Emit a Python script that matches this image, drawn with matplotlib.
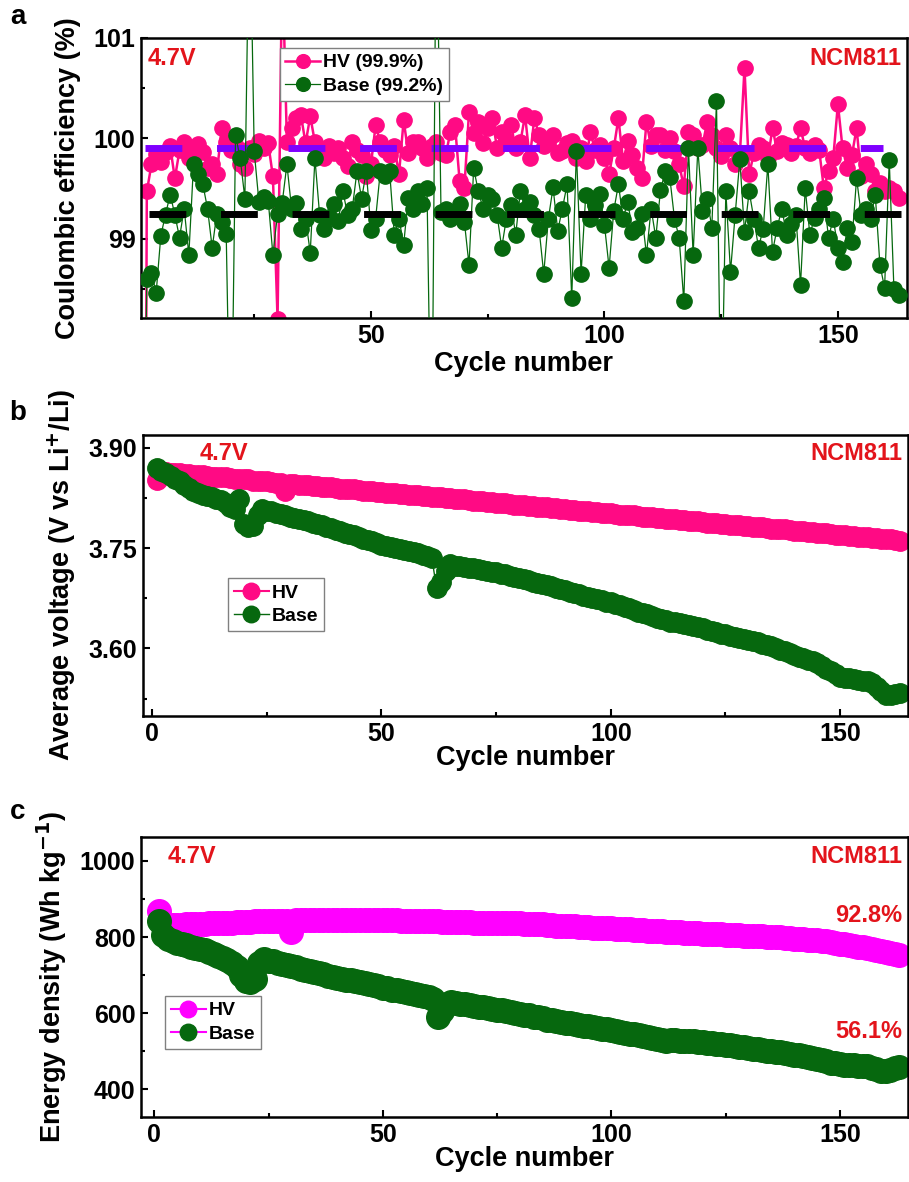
import matplotlib
matplotlib.use('Agg')
import matplotlib.pyplot as plt
from matplotlib.ticker import MultipleLocator, FormatStrFormatter
import numpy as np

# ---------------- data ----------------
# (a) Coulombic efficiency, %
hv_ce = [
    88.0, 99.47, 99.74, 99.84, 99.76, 99.86, 99.92, 99.60, 99.88, 99.96,
    99.80, 99.90, 99.94, 99.86, 99.70, 99.74, 99.64, 100.10, 99.96, 99.88,
    99.92, 99.74, 99.70, 99.90, 99.84, 99.97, 99.90, 99.95, 99.62, 98.20,
    101.8, 99.96, 100.10, 100.20, 100.23, 99.95, 100.22, 99.96, 99.88, 99.80,
    99.92, 99.85, 99.90, 99.80, 99.72, 99.96, 99.88, 99.83, 99.62, 99.74,
    100.13, 99.96, 99.88, 99.83, 99.92, 99.64, 100.18, 99.85, 99.96, 99.96,
    99.90, 99.80, 99.92, 99.96, 99.85, 99.83, 100.06, 100.13, 99.57, 99.50,
    100.26, 100.05, 100.16, 99.95, 100.10, 100.20, 99.90, 100.06, 99.98, 100.13,
    99.90, 99.96, 100.23, 99.80, 100.20, 100.03, 99.92, 99.96, 100.03, 99.85,
    99.87, 99.95, 99.97, 99.80, 99.90, 99.77, 100.06, 99.88, 99.93, 99.80,
    99.64, 99.90, 100.20, 99.77, 99.97, 99.83, 99.70, 99.60, 100.16, 99.92,
    100.03, 100.03, 99.88, 100.00, 99.87, 99.74, 99.52, 100.06, 100.03, 99.90,
    99.93, 100.16, 100.03, 99.90, 99.82, 100.03, 99.90, 99.74, 99.83, 100.70,
    99.64, 99.85, 99.93, 99.90, 99.80, 100.10, 99.87, 99.95, 99.93, 99.85,
    99.92, 100.10, 99.90, 99.85, 99.93, 99.88, 99.50, 99.67, 99.80, 100.34,
    99.90, 99.70, 99.83, 100.10, 99.62, 99.74, 99.64, 99.47, 99.55, 99.47,
    99.50, 99.47, 99.41,
]
base_ce = [
    95.0, 98.60, 98.66, 98.46, 99.03, 99.24, 99.44, 99.24, 99.01, 99.30,
    98.84, 99.74, 99.64, 99.54, 99.30, 98.91, 99.25, 99.17, 99.05, 96.5,
    100.03, 99.80, 99.40, 102.5, 99.87, 99.37, 99.42, 99.38, 98.84, 99.25,
    99.36, 99.74, 99.30, 99.36, 99.10, 99.20, 98.86, 99.80, 99.24, 99.10,
    99.22, 99.35, 99.18, 99.47, 99.24, 99.30, 99.67, 99.40, 99.67, 99.09,
    99.20, 99.67, 99.62, 99.67, 99.04, 99.20, 98.94, 99.41, 99.30, 99.47,
    99.35, 99.50, 96.5, 102.5, 99.27, 99.30, 99.20, 99.24, 99.35, 99.17,
    98.74, 99.70, 99.47, 99.30, 99.44, 99.40, 99.24, 98.91, 99.20, 99.34,
    99.04, 99.47, 99.30, 99.37, 99.24, 99.10, 98.65, 99.20, 99.51, 99.08,
    99.30, 99.54, 98.41, 99.87, 98.65, 99.44, 99.20, 99.34, 99.45, 99.14,
    98.71, 99.28, 99.54, 99.20, 99.37, 99.07, 99.11, 99.25, 98.84, 99.30,
    99.01, 99.48, 99.67, 99.61, 99.20, 99.01, 98.38, 99.90, 98.84, 99.90,
    99.28, 99.40, 99.11, 100.37, 97.0, 99.47, 98.67, 99.24, 99.79, 99.07,
    99.47, 99.20, 98.91, 99.10, 99.74, 98.87, 99.11, 99.30, 99.04, 99.15,
    99.24, 98.54, 99.50, 99.04, 99.21, 99.30, 99.41, 99.01, 99.20, 98.91,
    98.77, 99.11, 98.97, 99.60, 99.24, 99.30, 99.20, 99.44, 98.74, 98.51,
    99.78, 98.50, 98.44,
]
hv_ce_mean = 99.90
base_ce_mean = 99.25

# (b) average voltage, V vs Li+/Li
hv_voltage = [
    3.852, 3.864, 3.864, 3.863, 3.862, 3.862, 3.861, 3.861, 3.859, 3.859,
    3.859, 3.858, 3.857, 3.857, 3.856, 3.856, 3.855, 3.854, 3.854, 3.853,
    3.853, 3.851, 3.851, 3.850, 3.850, 3.849, 3.848, 3.848, 3.836, 3.846,
    3.846, 3.845, 3.844, 3.844, 3.843, 3.843, 3.842, 3.841, 3.841, 3.840,
    3.839, 3.839, 3.838, 3.838, 3.837, 3.836, 3.836, 3.835, 3.834, 3.834,
    3.833, 3.833, 3.832, 3.831, 3.831, 3.830, 3.830, 3.829, 3.828, 3.828,
    3.827, 3.826, 3.826, 3.825, 3.825, 3.824, 3.823, 3.823, 3.822, 3.821,
    3.820, 3.820, 3.819, 3.819, 3.818, 3.817, 3.817, 3.816, 3.815, 3.815,
    3.814, 3.813, 3.813, 3.812, 3.812, 3.811, 3.810, 3.810, 3.809, 3.808,
    3.807, 3.807, 3.806, 3.806, 3.805, 3.804, 3.804, 3.803, 3.802, 3.802,
    3.801, 3.800, 3.800, 3.799, 3.799, 3.798, 3.797, 3.797, 3.796, 3.795,
    3.795, 3.794, 3.793, 3.793, 3.792, 3.792, 3.791, 3.790, 3.790, 3.789,
    3.788, 3.788, 3.787, 3.786, 3.786, 3.785, 3.785, 3.784, 3.783, 3.783,
    3.782, 3.781, 3.781, 3.780, 3.779, 3.779, 3.778, 3.778, 3.777, 3.776,
    3.775, 3.775, 3.774, 3.774, 3.773, 3.772, 3.772, 3.771, 3.770, 3.770,
    3.769, 3.768, 3.768, 3.767, 3.767, 3.766, 3.765, 3.765, 3.764, 3.763,
    3.763, 3.762, 3.761,
]
base_voltage = [
    3.870, 3.866, 3.862, 3.858, 3.854, 3.850, 3.845, 3.840, 3.836, 3.832,
    3.830, 3.828, 3.826, 3.824, 3.822, 3.818, 3.812, 3.808, 3.824, 3.786,
    3.781, 3.783, 3.800, 3.808, 3.806, 3.805, 3.803, 3.801, 3.799, 3.797,
    3.795, 3.794, 3.792, 3.790, 3.788, 3.786, 3.784, 3.782, 3.780, 3.777,
    3.775, 3.773, 3.771, 3.769, 3.766, 3.764, 3.762, 3.760, 3.757, 3.755,
    3.753, 3.752, 3.750, 3.749, 3.747, 3.745, 3.744, 3.742, 3.740, 3.738,
    3.735, 3.690, 3.700, 3.716, 3.726, 3.724, 3.723, 3.722, 3.721, 3.720,
    3.719, 3.718, 3.716, 3.715, 3.714, 3.712, 3.711, 3.709, 3.707, 3.705,
    3.704, 3.702, 3.700, 3.698, 3.697, 3.695, 3.693, 3.691, 3.689, 3.687,
    3.685, 3.683, 3.681, 3.679, 3.677, 3.676, 3.674, 3.672, 3.670, 3.669,
    3.667, 3.665, 3.662, 3.660, 3.658, 3.655, 3.653, 3.651, 3.648, 3.646,
    3.644, 3.642, 3.640, 3.639, 3.638, 3.636, 3.635, 3.633, 3.632, 3.630,
    3.628, 3.626, 3.624, 3.622, 3.621, 3.619, 3.617, 3.616, 3.614, 3.612,
    3.611, 3.609, 3.607, 3.605, 3.603, 3.600, 3.598, 3.596, 3.593, 3.591,
    3.588, 3.586, 3.583, 3.581, 3.579, 3.574, 3.570, 3.566, 3.562, 3.558,
    3.556, 3.556, 3.554, 3.553, 3.552, 3.551, 3.549, 3.543, 3.537, 3.531,
    3.530, 3.532, 3.534,
]

# (c) energy density, Wh/kg
hv_energy = [
    868, 834, 830, 831, 832, 832, 833, 834, 834, 835,
    835, 836, 836, 837, 837, 838, 838, 839, 839, 840,
    840, 841, 841, 841, 842, 842, 843, 843, 843, 812,
    844, 844, 844, 845, 845, 845, 845, 846, 846, 846,
    846, 846, 846, 846, 846, 846, 845, 845, 845, 845,
    844, 844, 844, 843, 843, 843, 842, 842, 842, 841,
    841, 841, 840, 840, 840, 839, 839, 839, 839, 838,
    838, 838, 838, 838, 837, 837, 837, 837, 836, 836,
    835, 835, 834, 833, 833, 832, 831, 830, 830, 829,
    828, 828, 827, 826, 826, 825, 825, 824, 824, 823,
    822, 822, 821, 820, 819, 818, 818, 817, 816, 815,
    815, 814, 813, 813, 812, 811, 811, 810, 810, 809,
    808, 808, 807, 807, 806, 806, 805, 805, 804, 803,
    803, 802, 802, 801, 800, 800, 799, 798, 797, 796,
    795, 794, 793, 792, 791, 790, 789, 787, 785, 783,
    781, 779, 777, 775, 773, 771, 769, 766, 763, 760,
    758, 756, 754,
]
base_energy = [
    843, 805, 795, 790, 785, 782, 778, 775, 772, 769,
    765, 760, 755, 750, 745, 740, 733, 722, 700, 684,
    682, 690, 733, 742, 738, 736, 733, 730, 727, 723,
    720, 717, 714, 712, 709, 705, 702, 698, 695, 693,
    690, 688, 686, 684, 681, 679, 676, 673, 670, 667,
    665, 662, 660, 658, 655, 653, 650, 648, 645, 642,
    638, 590, 605, 625, 628, 627, 625, 623, 621, 619,
    617, 615, 613, 611, 609, 607, 605, 603, 601, 599,
    596, 594, 591, 589, 586, 583, 581, 579, 577, 575,
    573, 571, 569, 567, 565, 563, 561, 559, 557, 555,
    552, 550, 548, 546, 544, 542, 540, 537, 535, 532,
    530, 528, 530, 529, 527, 526, 527, 526, 524, 523,
    522, 521, 520, 519, 517, 515, 514, 512, 510, 508,
    506, 505, 503, 501, 500, 498, 497, 495, 493, 491,
    489, 487, 485, 482, 479, 476, 473, 470, 468, 466,
    464, 464, 463, 461, 462, 460, 457, 452, 449, 448,
    451, 455, 458,
]

cycles = np.arange(1, len(hv_ce) + 1)

# ---------------- style ----------------
PINK = '#FF0A84'
GREEN = '#06680E'
MAGENTA = '#FF00FF'
PURPLE = '#7F00FF'
RED = '#E3141B'

plt.rcParams['font.family'] = ['Liberation Sans', 'DejaVu Sans']
plt.rcParams['font.weight'] = 'bold'
plt.rcParams['axes.labelweight'] = 'bold'
plt.rcParams['axes.linewidth'] = 1.8
plt.rcParams['mathtext.default'] = 'bf'


def style_axes(ax, ymajor, yminor):
    ax.tick_params(which='both', direction='in', top=False, right=False,
                   labelsize=18, width=1.5)
    ax.tick_params(which='major', length=5, pad=4)
    ax.tick_params(which='minor', length=3)
    ax.xaxis.set_major_locator(MultipleLocator(50))
    ax.xaxis.set_minor_locator(MultipleLocator(25))
    ax.yaxis.set_major_locator(MultipleLocator(ymajor))
    ax.yaxis.set_minor_locator(MultipleLocator(yminor))
    ax.set_xlabel('Cycle number', fontsize=19.5)


def add_tags(ax, x_left, y_left):
    ax.text(x_left, y_left, '4.7V', color=RED, fontsize=17, fontweight='bold',
            transform=ax.transAxes, ha='left', va='center')
    ax.text(0.993, y_left, 'NCM811', color=RED, fontsize=17, fontweight='bold',
            transform=ax.transAxes, ha='right', va='center')


fig = plt.figure(figsize=(9.09, 11.82), dpi=100)
ax_a = fig.add_axes([0.1551, 0.7310, 0.8427, 0.2369])
ax_b = fig.add_axes([0.1573, 0.3942, 0.8416, 0.2377])
ax_c = fig.add_axes([0.1551, 0.0550, 0.8438, 0.2369])

# ---------------- (a) Coulombic efficiency ----------------
ax_a.plot(cycles, hv_ce, '-o', color=PINK, lw=1.8, ms=11, mec=PINK,
          label='HV (99.9%)', zorder=2)
ax_a.plot(cycles, base_ce, '-o', color=GREEN, lw=0.9, ms=11, mec=GREEN,
          label='Base (99.2%)', zorder=4)
ax_a.plot([1.6, 159.6], [hv_ce_mean, hv_ce_mean], color=PURPLE, lw=5,
          dashes=(5.3, 5.0), dash_capstyle='butt', zorder=3)
ax_a.plot([2.4, 163.6], [base_ce_mean, base_ce_mean], color='black', lw=5,
          dashes=(5.3, 5.0), dash_capstyle='butt', zorder=5)
ax_a.set_xlim(0.75, 164.8)
ax_a.set_ylim(98.21, 101.0)
style_axes(ax_a, 1, 0.5)
ax_a.set_ylabel('Coulombic efficiency (%)', fontsize=19.5)
ax_a.yaxis.set_label_coords(-0.078, 0.5)
ax_a.xaxis.set_label_coords(0.5, -0.118)
add_tags(ax_a, 0.009, 0.925)
ax_a.legend(loc='upper left', bbox_to_anchor=(0.181, 0.964), borderaxespad=0,
            fontsize=14, fancybox=False, edgecolor='#808080', framealpha=1,
            handlelength=1.8, handletextpad=0.15, borderpad=0.3,
            labelspacing=0.3, markerscale=0.9)

# ---------------- (b) average voltage ----------------
ax_b.plot(cycles, hv_voltage, '-o', color=PINK, lw=1.5, ms=14, mec=PINK,
          label='HV')
ax_b.plot(cycles, base_voltage, '-o', color=GREEN, lw=1.0, ms=14, mec=GREEN,
          label='Base')
ax_b.set_xlim(-2.0, 164.8)
ax_b.set_ylim(3.499, 3.919)
style_axes(ax_b, 0.15, 0.075)
ax_b.yaxis.set_major_formatter(FormatStrFormatter('%.2f'))
ax_b.set_ylabel('Average voltage (V vs Li$^{+}$/Li)', fontsize=19.5)
ax_b.yaxis.set_label_coords(-0.085, 0.5)
ax_b.xaxis.set_label_coords(0.5, -0.102)
add_tags(ax_b, 0.0745, 0.934)
ax_b.legend(loc='upper left', bbox_to_anchor=(0.111, 0.491), borderaxespad=0,
            fontsize=14, fancybox=False, edgecolor='#808080', framealpha=1,
            handlelength=1.8, handletextpad=0.15, borderpad=0.3,
            labelspacing=0.3, markerscale=0.85)

# ---------------- (c) energy density ----------------
ax_c.plot(cycles, hv_energy, '-o', color=MAGENTA, lw=1.5, ms=17, mec=MAGENTA,
          label='HV')
ax_c.plot(cycles, base_energy, '-o', color=MAGENTA, lw=1.5, ms=17,
          mfc=GREEN, mec=GREEN, label='Base')
ax_c.set_xlim(-2.9, 164.9)
ax_c.set_ylim(327, 1063)
style_axes(ax_c, 200, 100)
ax_c.set_ylabel('Energy density (Wh kg$^{-1}$)', fontsize=19.5)
ax_c.yaxis.set_label_coords(-0.094, 0.5)
ax_c.xaxis.set_label_coords(0.5, -0.103)
add_tags(ax_c, 0.035, 0.929)
ax_c.text(0.993, 0.721, '92.8%', color=RED, fontsize=17, fontweight='bold',
          transform=ax_c.transAxes, ha='right', va='center')
ax_c.text(0.993, 0.304, '56.1%', color=RED, fontsize=17, fontweight='bold',
          transform=ax_c.transAxes, ha='right', va='center')
ax_c.legend(loc='upper left', bbox_to_anchor=(0.031, 0.432), borderaxespad=0,
            fontsize=14, fancybox=False, edgecolor='#808080', framealpha=1,
            handlelength=1.8, handletextpad=0.15, borderpad=0.3,
            labelspacing=0.3, markerscale=0.7)

# panel letters
for letter, ypix in [('a', 17), ('b', 413), ('c', 812)]:
    fig.text(18 / 909, 1 - ypix / 1182, letter, fontsize=20, fontweight='bold',
             ha='center', va='center')

fig.savefig('out.png', dpi=100)
